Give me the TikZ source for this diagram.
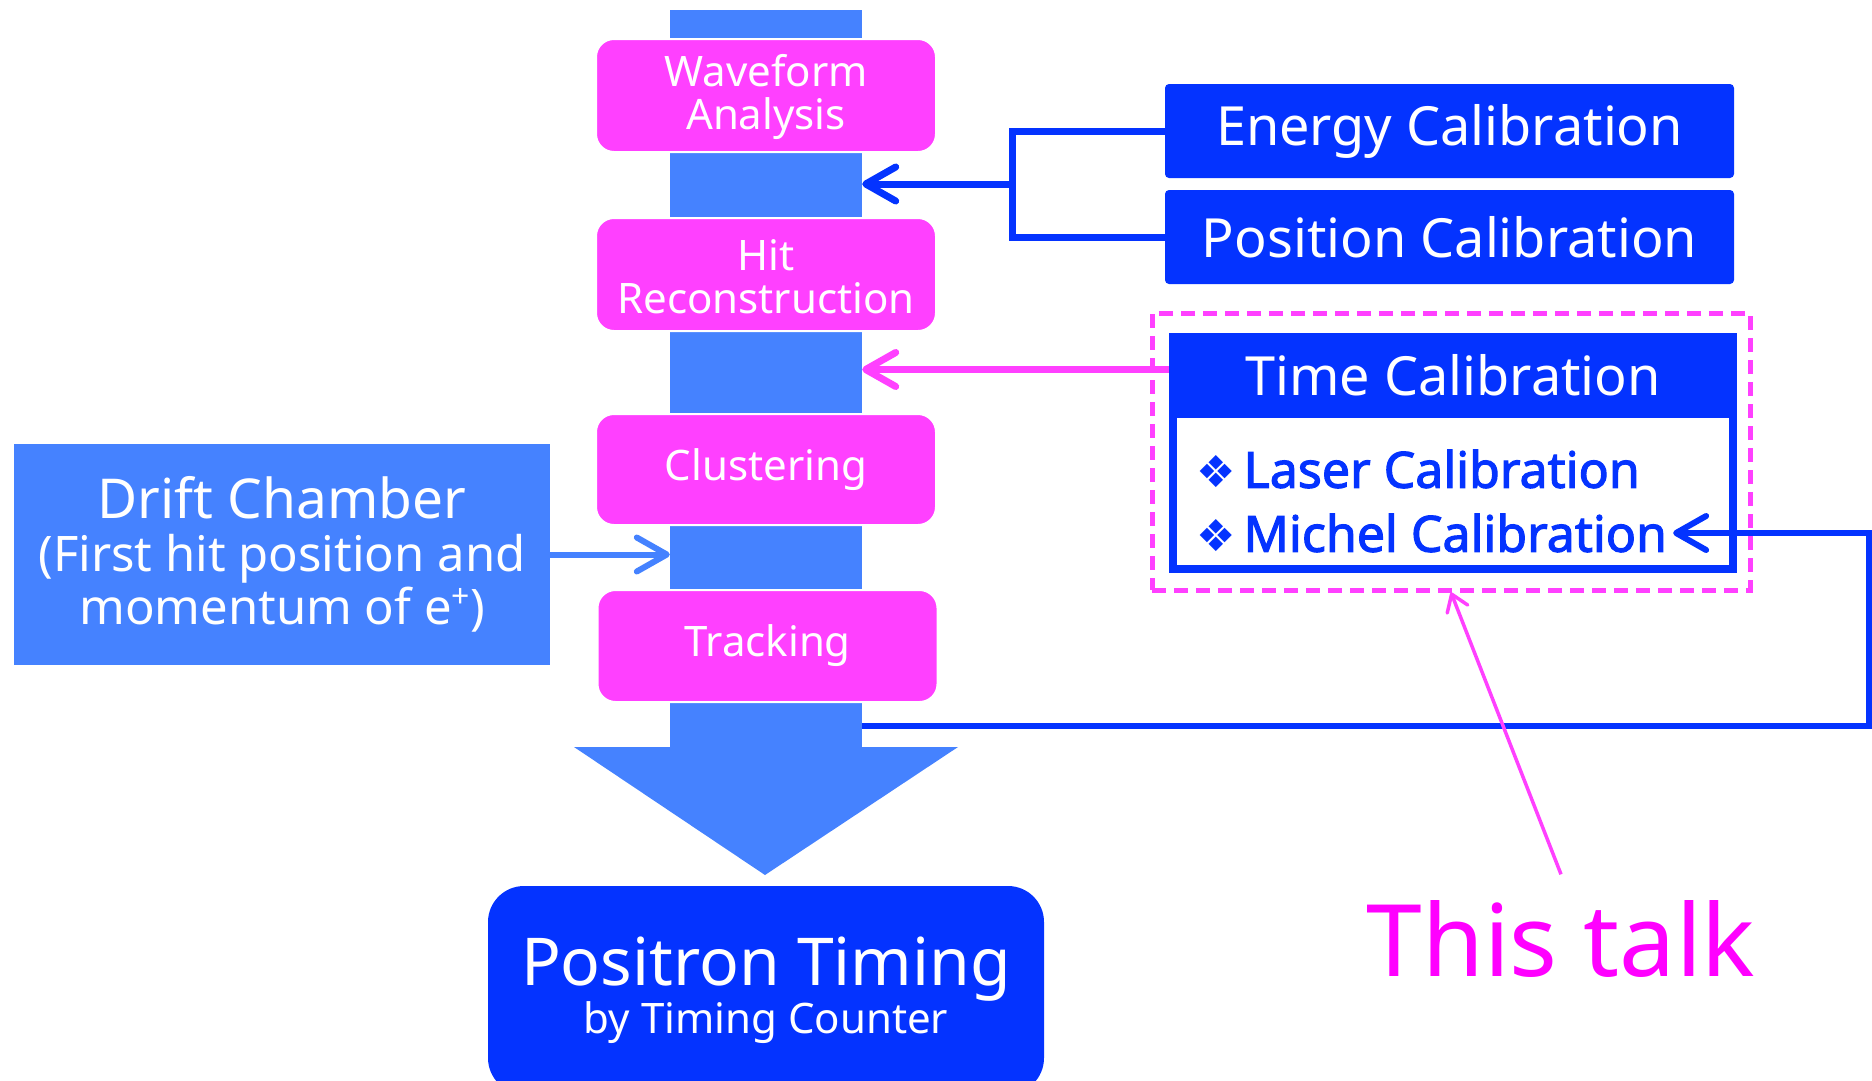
\documentclass[tikz,border=0pt]{standalone}
\usepackage{fontspec}
\setmainfont{Noto Sans}
\newfontfamily\symfont{DejaVu Sans}
\newfontfamily\itemfont{Noto Sans}[FakeBold=2.2]
\usetikzlibrary{arrows.meta}
\definecolor{pk}{HTML}{FF40FF}
\definecolor{lb}{HTML}{4582FF}
\definecolor{db}{HTML}{0433FF}
\definecolor{mg}{HTML}{FF00FF}
\tikzset{
  stage/.style={rectangle, rounded corners=18pt, fill=pk, draw=white, line width=2pt,
    text=white, minimum width=340pt, align=center, inner sep=0pt,
    font=\fontsize{42}{43}\selectfont},
  calbox/.style={rectangle, rounded corners=4pt, fill=db, text=white,
    minimum width=569pt, minimum height=94pt, inner sep=0pt,
    font=\fontsize{54}{60}\selectfont},
  chev/.style={-{Straight Barb[length=30pt,width=34pt,line cap=round,line join=round]}},
  dbline/.style={draw=db, line width=7pt},
  fbline/.style={draw=db, line width=6pt, line join=miter},
  pkline/.style={draw=pk, line width=7pt},
  lbline/.style={draw=lb, line width=6pt},
  tlk/.style={draw=pk, line width=3.5pt,
    -{Straight Barb[length=16pt,width=22pt,line cap=round,line join=round]}},
  calitem/.style={anchor=west, text=db, inner sep=0pt,
    font=\itemfont\fontsize{50}{54}\selectfont}
}
\newcommand\bul{{\symfont\fontsize{44}{44}\selectfont ❖}\hspace{8pt}}
\begin{document}
\begin{tikzpicture}[x=1pt,y=-1pt]
\useasboundingbox (0,0) rectangle (1872,1080);
\clip (0,0) rectangle (1872,1080);
% main flow bar
\node[fill=lb, minimum width=192pt, minimum height=737pt, inner sep=0pt] (bar) at (766,378.5) {};
\fill[lb] (574,747) -- (958,747) -- (765,875) -- cycle;
% stages
\node[stage, minimum height=113pt] (wf) at (766,95.5) {\rule{0pt}{36pt}Waveform\\Analysis};
\node[stage, minimum height=113pt] (hr) at (766,274.5) {\rule{0pt}{36pt}Hit\\Reconstruction};
\node[stage, minimum height=111pt] (cl) at (766,469.5) {Clustering};
\node[stage, minimum height=112pt] (tr) at (767.5,646) {Tracking};
% result
\node[fill=db, rounded corners=36pt, text=white, minimum width=556pt, minimum height=208pt,
  inner sep=0pt, align=center, font=\fontsize{42}{48}\selectfont] (pt) at (766,990)
  {{\fontsize{66}{48}\selectfont Positron Timing}\\by Timing Counter};
% drift chamber
\node[fill=lb, text=white, minimum width=536pt, minimum height=221pt, inner sep=0pt,
  align=center, font=\fontsize{49}{53}\selectfont] (dc) at (282,554.5)
  {{\fontsize{55}{53}\selectfont Drift Chamber}\\(First hit position and\\momentum of e\raisebox{17pt}{\fontsize{32}{32}\selectfont +})};
% calibrations
\node[calbox] (en) at (1449.5,131) {Energy Calibration};
\node[calbox] (po) at (1449.5,237) {Position Calibration};
\node[draw=pk, line width=5pt, dash pattern=on 14pt off 8pt, minimum width=598pt,
  minimum height=277pt, inner sep=0pt] (dsh) at (1451,451.5) {};
\node[draw=db, line width=8pt, fill=white, minimum width=560pt, minimum height=232pt,
  inner sep=0pt] (tc) at (1453,453) {};
\node[fill=db, text=white, minimum width=568pt, minimum height=85pt, inner sep=0pt,
  font=\fontsize{54}{60}\selectfont] (tch) at (1453,375.5) {Time Calibration};
\node[calitem] (la) at (1196,469) {\bul Laser Calibration};
\node[calitem] (mi) at (1196,533) {\bul Michel Calibration};
% connectors
\coordinate (j) at (1012,184);
\draw[dbline] (en.west) -| (j) |- (po.west);
\draw[dbline, chev] (j) -- (bar.east |- j);
\coordinate (ma) at ([yshift=6pt]tch.west);
\draw[pkline, chev] (ma) -- (bar.east |- ma);
\draw[lbline, chev] (dc.east) -- (bar.west |- dc.east);
\coordinate (fa) at (862,726);
\coordinate (fb) at (1869,726);
\coordinate (mt) at ([xshift=6pt]mi.east);
\draw[fbline, chev] (fa) -- (fb) |- (mt);
% this talk
\node[text=mg, inner sep=0pt, font=\fontsize{100}{100}\selectfont] (tt) at (1561,939) {This talk};
\coordinate (ts) at ([yshift=26pt]tt.north);
\draw[tlk] (ts) -- (dsh.south);
\end{tikzpicture}
\end{document}
